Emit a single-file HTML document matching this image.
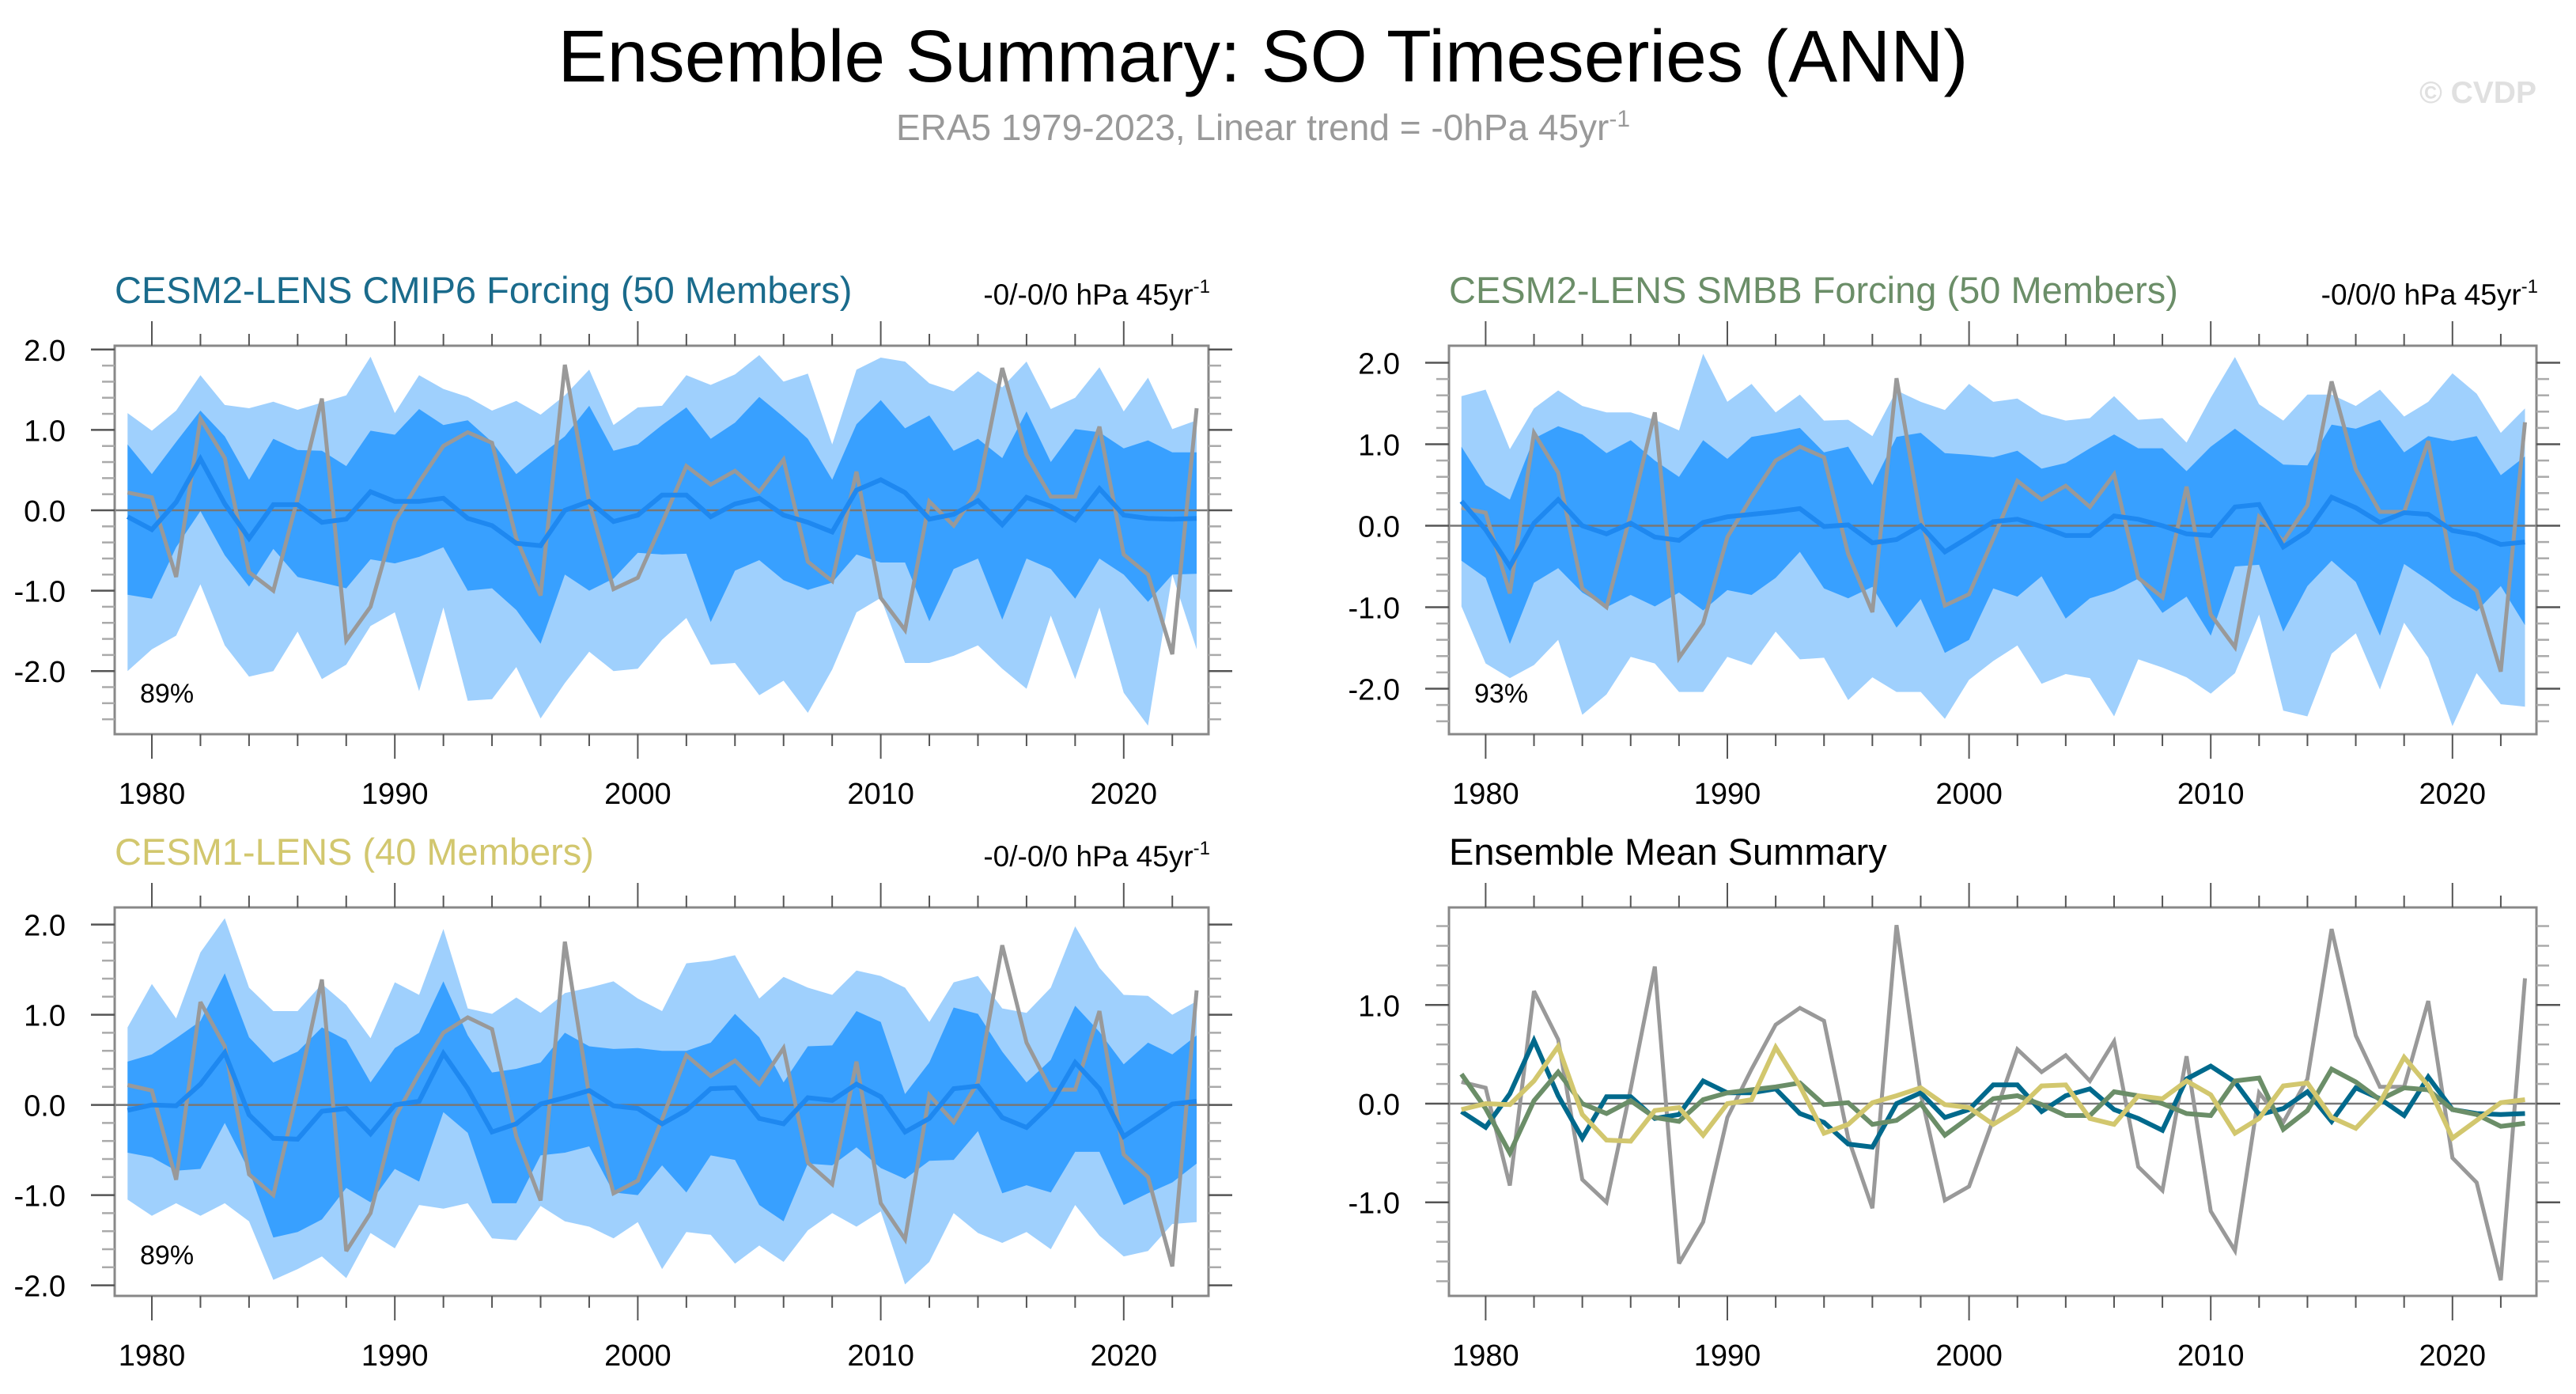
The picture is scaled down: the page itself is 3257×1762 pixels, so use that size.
<!DOCTYPE html>
<html><head><meta charset="utf-8">
<style>
html,body{margin:0;padding:0;background:#fff;}
svg{display:block;font-family:"Liberation Sans",Arial,sans-serif;}
</style></head>
<body>
<svg id="chart" width="3257" height="1762" viewBox="0 0 3257 1762" xmlns="http://www.w3.org/2000/svg">
<text x="1597" y="103" font-size="93" text-anchor="middle" fill="#000">Ensemble Summary: SO Timeseries (ANN)</text>
<text x="1597" y="177" font-size="46" text-anchor="middle" fill="#999">ERA5 1979-2023, Linear trend = -0hPa 45yr<tspan dy="-17" font-size="30">-1</tspan></text>
<text x="3207" y="130" font-size="39" font-weight="bold" text-anchor="end" fill="#e0e0e0">© CVDP</text>
<g id="panels"></g>
</svg>
<script>
// ---- data ----
const years = [];
for (let y = 1979; y <= 2023; y++) years.push(y);
const obs = [0.22,0.16,-0.83,1.14,0.65,-0.77,-1.0,0.15,1.39,-1.62,-1.2,-0.14,0.35,0.8,0.97,0.84,-0.35,-1.06,1.81,0.1,-0.98,-0.84,-0.16,0.55,0.32,0.49,0.23,0.63,-0.64,-0.88,0.48,-1.09,-1.49,0.11,-0.19,0.25,1.77,0.69,0.17,0.17,1.04,-0.55,-0.8,-1.79,1.27];
const meanCmip6 = [-0.08,-0.24,0.1,0.64,0.08,-0.35,0.07,0.07,-0.15,-0.11,0.23,0.11,0.11,0.15,-0.1,-0.19,-0.41,-0.44,0.0,0.11,-0.14,-0.06,0.19,0.19,-0.08,0.08,0.15,-0.06,-0.15,-0.27,0.25,0.38,0.22,-0.11,-0.05,0.12,-0.18,0.16,0.05,-0.12,0.27,-0.06,-0.1,-0.11,-0.1];
const meanSmbb = [0.3,-0.05,-0.5,0.03,0.32,0.0,-0.1,0.03,-0.14,-0.18,0.04,0.11,0.14,0.17,0.21,-0.01,0.01,-0.21,-0.17,0.0,-0.32,-0.14,0.05,0.08,-0.01,-0.12,-0.12,0.12,0.08,0.0,-0.1,-0.12,0.23,0.26,-0.26,-0.07,0.35,0.22,0.04,0.16,0.14,-0.06,-0.11,-0.23,-0.2];
const meanCesm1 = [-0.06,0.0,-0.01,0.23,0.58,-0.11,-0.37,-0.38,-0.07,-0.04,-0.32,0.0,0.04,0.57,0.18,-0.3,-0.21,0.01,0.08,0.16,-0.01,-0.04,-0.21,-0.06,0.18,0.19,-0.15,-0.21,0.08,0.05,0.23,0.09,-0.3,-0.15,0.18,0.21,-0.14,-0.25,0.01,0.47,0.18,-0.35,-0.17,0.01,0.04];

const cmip6LightUp = [1.21,0.99,1.24,1.68,1.31,1.27,1.35,1.25,1.34,1.43,1.91,1.21,1.68,1.51,1.41,1.24,1.36,1.19,1.43,1.75,1.06,1.28,1.30,1.68,1.56,1.69,1.93,1.6,1.7,0.82,1.75,1.9,1.85,1.58,1.48,1.73,1.53,1.85,1.26,1.4,1.78,1.23,1.65,1.01,1.12];
const cmip6DarkUp = [0.82,0.45,0.85,1.24,0.92,0.38,0.89,0.75,0.74,0.55,0.99,0.94,1.26,1.06,1.12,0.85,0.45,0.69,0.92,1.30,0.74,0.82,1.06,1.28,0.89,1.09,1.41,1.16,0.89,0.38,1.07,1.37,1.02,1.18,0.74,0.89,0.65,1.23,0.60,1.01,0.97,0.77,0.87,0.72,0.72];
const cmip6DarkLo = [-1.05,-1.1,-0.46,-0.01,-0.56,-0.95,-0.48,-0.83,-0.9,-0.97,-0.61,-0.66,-0.58,-0.46,-1.0,-0.97,-1.24,-1.66,-0.8,-1.0,-0.85,-0.53,-0.55,-0.54,-1.39,-0.75,-0.62,-0.87,-0.99,-0.9,-0.55,-0.65,-0.65,-1.38,-0.73,-0.6,-1.36,-0.6,-0.73,-1.1,-0.6,-0.8,-1.14,-0.8,-0.79];
const cmip6LightLo = [-2.0,-1.73,-1.56,-0.92,-1.68,-2.07,-2.0,-1.51,-2.1,-1.92,-1.44,-1.27,-2.25,-1.21,-2.37,-2.35,-1.95,-2.59,-2.15,-1.76,-2.0,-1.97,-1.61,-1.34,-1.92,-1.9,-2.3,-2.12,-2.52,-1.98,-1.27,-1.09,-1.9,-1.9,-1.81,-1.68,-1.97,-2.22,-1.31,-2.1,-1.21,-2.27,-2.68,-0.8,-1.73];

const smbbLightUp = [1.59,1.67,0.94,1.44,1.66,1.47,1.39,1.39,1.30,1.17,2.11,1.52,1.74,1.39,1.61,1.29,1.30,1.10,1.66,1.52,1.42,1.74,1.52,1.56,1.37,1.29,1.32,1.59,1.30,1.32,1.02,1.57,2.07,1.49,1.29,1.61,1.61,1.47,1.67,1.34,1.52,1.87,1.62,1.14,1.44];
const smbbDarkUp = [0.97,0.50,0.32,1.07,1.22,1.12,0.89,1.05,0.80,0.60,1.05,0.82,1.09,1.14,1.20,0.90,0.97,0.50,1.09,1.14,0.89,0.87,0.84,0.92,0.70,0.77,0.95,1.12,0.95,0.95,0.67,0.97,1.19,0.97,0.75,0.74,1.24,1.19,1.30,0.90,1.10,1.04,1.10,0.62,0.85];
const smbbDarkLo = [-0.43,-0.64,-1.45,-0.70,-0.52,-0.82,-1.0,-0.85,-0.99,-0.82,-1.04,-0.79,-0.85,-0.64,-0.32,-0.77,-0.89,-0.75,-1.25,-0.90,-1.56,-1.40,-0.77,-0.87,-0.62,-1.14,-0.89,-0.80,-0.65,-1.07,-0.87,-1.35,-0.50,-0.48,-1.30,-0.74,-0.43,-0.69,-1.35,-0.47,-0.67,-0.89,-1.05,-0.74,-1.22];
const smbbLightLo = [-0.99,-1.69,-1.87,-1.71,-1.40,-2.32,-2.07,-1.61,-1.69,-2.04,-2.04,-1.61,-1.71,-1.30,-1.64,-1.62,-2.14,-1.86,-2.04,-2.04,-2.37,-1.89,-1.66,-1.47,-1.94,-1.82,-1.87,-2.34,-1.64,-1.74,-1.86,-2.06,-1.81,-1.09,-2.27,-2.34,-1.57,-1.32,-2.01,-1.19,-1.62,-2.46,-1.81,-2.19,-2.22];

const cesm1LightUp = [0.86,1.34,0.96,1.69,2.07,1.30,1.04,1.04,1.34,1.11,0.74,1.36,1.22,1.95,1.07,1.01,1.19,1.02,1.24,1.30,1.37,1.18,1.04,1.57,1.60,1.66,1.18,1.42,1.30,1.22,1.49,1.43,1.30,0.92,1.36,1.43,1.07,1.02,1.30,1.98,1.52,1.22,1.21,1.0,1.15];
const cesm1DarkUp = [0.48,0.56,0.74,0.93,1.46,0.75,0.47,0.59,0.86,0.72,0.25,0.63,0.80,1.37,0.77,0.36,0.40,0.47,0.80,0.65,0.62,0.63,0.60,0.60,0.69,1.01,0.75,0.25,0.65,0.66,1.04,0.92,0.12,0.47,1.08,1.01,0.59,0.25,0.50,1.10,0.81,0.45,0.69,0.56,0.77];
const cesm1DarkLo = [-0.53,-0.58,-0.73,-0.71,-0.20,-0.73,-1.47,-1.41,-1.27,-0.92,-1.08,-0.71,-0.85,-0.08,-0.31,-1.09,-1.09,-0.56,-0.53,-0.46,-0.97,-1.0,-0.67,-0.97,-0.56,-0.61,-1.11,-1.29,-0.65,-0.67,-0.47,-0.70,-0.82,-0.62,-0.61,-0.29,-0.98,-0.89,-0.97,-0.52,-0.52,-1.11,-0.98,-0.86,-0.65];
const cesm1LightLo = [-1.05,-1.23,-1.09,-1.23,-1.09,-1.29,-1.94,-1.82,-1.68,-1.92,-1.42,-1.59,-1.11,-1.15,-1.09,-1.48,-1.50,-1.12,-1.29,-1.35,-1.48,-1.30,-1.82,-1.41,-1.44,-1.76,-1.56,-1.74,-1.39,-1.20,-1.35,-1.18,-1.99,-1.74,-1.20,-1.42,-1.53,-1.41,-1.60,-1.11,-1.45,-1.68,-1.62,-1.32,-1.30];

const xTickLabels = ["1980","1990","2000","2010","2020"];
const yTickLabelsBand = ["-2.0","-1.0","0.0","1.0","2.0"];
const yTickLabelsMean = ["-1.0","0.0","1.0"];

// ---- drawing ----
const NS = "http://www.w3.org/2000/svg";
const root = document.getElementById("panels");
function mk(tag, attrs, parent) {
  const e = document.createElementNS(NS, tag);
  for (const k in attrs) e.setAttribute(k, attrs[k]);
  (parent || root).appendChild(e);
  return e;
}

function makePanel(cfg) {
  const g = mk("g", {});
  
  
  const xs = v => cfg.x0 + (v - 1980) * cfg.pxYear;
  const ys = v => cfg.zero - v * cfg.pxUnit;
  const clipId = cfg.name + "-clip";
  const cp = mk("clipPath", {id: clipId}, g);
  mk("rect", {x: cfg.left, y: cfg.top, width: cfg.right - cfg.left, height: cfg.bottom - cfg.top}, cp);
  const plot = mk("g", {"clip-path": "url(#" + clipId + ")"}, g);

  function band(up, lo, color, name) {
    let d = "";
    years.forEach((yr, i) => { d += (i ? "L" : "M") + xs(yr).toFixed(1) + "," + ys(up[i]).toFixed(1); });
    for (let i = years.length - 1; i >= 0; i--) d += "L" + xs(years[i]).toFixed(1) + "," + ys(lo[i]).toFixed(1);
    const p = mk("path", {d: d + "Z", fill: color, stroke: "none"}, plot);
    
    
  }
  function line(vals, color, w, name) {
    const pts = years.map((yr, i) => xs(yr).toFixed(1) + "," + ys(vals[i]).toFixed(1)).join(" ");
    const p = mk("polyline", {points: pts, fill: "none", stroke: color, "stroke-width": w, "stroke-linejoin": "miter", "stroke-miterlimit": 3}, plot);
    
    
  }
  if (cfg.bands) {
    band(cfg.bands[0], cfg.bands[3], "#9fd0fd", "outer-spread-band");
    band(cfg.bands[1], cfg.bands[2], "#38a0ff", "inner-spread-band");
  }
  const zl = mk("line", {x1: cfg.left, x2: cfg.right, y1: ys(0), y2: ys(0), stroke: "#777", "stroke-width": 2.5}, plot);
  
  
  cfg.lines.forEach(l => line(l.vals, l.color, l.w, l.name));

  const fr = mk("rect", {x: cfg.left, y: cfg.top, width: cfg.right - cfg.left, height: cfg.bottom - cfg.top, fill: "none", stroke: "#888", "stroke-width": 3}, g);
  
  

  for (let yr = 1978; yr <= 2024; yr += 2) {
    const x = xs(yr);
    if (x < cfg.left || x > cfg.right) continue;
    const major = yr % 10 === 0;
    const L = major ? 31 : 15;
    mk("line", {x1: x, x2: x, y1: cfg.top, y2: cfg.top - L, stroke: "#555", "stroke-width": 2}, g);
    mk("line", {x1: x, x2: x, y1: cfg.bottom, y2: cfg.bottom + L, stroke: "#555", "stroke-width": 2}, g);
  }
  xTickLabels.forEach(lbl => {
    const t = mk("text", {x: xs(+lbl), y: cfg.bottom + 88, "font-size": 38, "text-anchor": "middle", fill: "#000"}, g);
    t.textContent = lbl;
    
    
  });
  for (let k = -30; k <= 30; k++) {
    const v = k / 5;
    const y = ys(v);
    if (y < cfg.top + 1 || y > cfg.bottom - 1) continue;
    const major = k % 5 === 0;
    const L = major ? 30 : 16;
    mk("line", {x1: cfg.left, x2: cfg.left - L, y1: y, y2: y, stroke: major ? "#555" : "#aaa", "stroke-width": 2.5}, g);
    mk("line", {x1: cfg.right, x2: cfg.right + L, y1: y, y2: y, stroke: major ? "#555" : "#aaa", "stroke-width": 2.5}, g);
  }
  cfg.yLabels.forEach(lbl => {
    const t = mk("text", {x: cfg.left - 62, y: ys(+lbl) + 14, "font-size": 38, "text-anchor": "end", fill: "#000"}, g);
    t.textContent = lbl;
    
    
  });
  const tt = mk("text", {x: cfg.left, y: cfg.top - 54, "font-size": 47, fill: cfg.titleColor}, g);
  tt.textContent = cfg.title;
  
  
  if (cfg.trend) {
    const tr = mk("text", {x: cfg.right + 2, y: cfg.top - 52, "font-size": 37, "text-anchor": "end", fill: "#000"}, g);
    tr.textContent = cfg.trend + " hPa 45yr";
    const sup = mk("tspan", {dy: -15, "font-size": 24}, tr);
    sup.textContent = "-1";
    
    
  }
  if (cfg.pct) {
    const pt = mk("text", {x: cfg.left + 32, y: cfg.bottom - 40, "font-size": 34, fill: "#000"}, g);
    pt.textContent = cfg.pct;
    
    
  }
}

makePanel({name: "panel-cesm2-cmip6", left: 145, right: 1528, top: 437, bottom: 928, x0: 192, pxYear: 30.72, zero: 645, pxUnit: 101.6,
  bands: [cmip6LightUp, cmip6DarkUp, cmip6DarkLo, cmip6LightLo],
  lines: [{vals: obs, color: "#999", w: 5, name: "observed-line"}, {vals: meanCmip6, color: "#1e88f0", w: 6, name: "ensemble-mean-line"}],
  yLabels: yTickLabelsBand, title: "CESM2-LENS CMIP6 Forcing (50 Members)", titleColor: "#1a6b8c", trend: "-0/-0/0", pct: "89%"});

makePanel({name: "panel-cesm2-smbb", left: 1832, right: 3207, top: 437, bottom: 928, x0: 1878.4, pxYear: 30.56, zero: 664.5, pxUnit: 103,
  bands: [smbbLightUp, smbbDarkUp, smbbDarkLo, smbbLightLo],
  lines: [{vals: obs, color: "#999", w: 5, name: "observed-line"}, {vals: meanSmbb, color: "#1e88f0", w: 6, name: "ensemble-mean-line"}],
  yLabels: yTickLabelsBand, title: "CESM2-LENS SMBB Forcing (50 Members)", titleColor: "#6b8e68", trend: "-0/0/0", pct: "93%"});

makePanel({name: "panel-cesm1", left: 145, right: 1528, top: 1147, bottom: 1638, x0: 192, pxYear: 30.72, zero: 1396.6, pxUnit: 114,
  bands: [cesm1LightUp, cesm1DarkUp, cesm1DarkLo, cesm1LightLo],
  lines: [{vals: obs, color: "#999", w: 5, name: "observed-line"}, {vals: meanCesm1, color: "#1e88f0", w: 6, name: "ensemble-mean-line"}],
  yLabels: yTickLabelsBand, title: "CESM1-LENS (40 Members)", titleColor: "#d2c76e", trend: "-0/-0/0", pct: "89%"});

makePanel({name: "panel-ensemble-mean-summary", left: 1832, right: 3207, top: 1147, bottom: 1638, x0: 1878.4, pxYear: 30.56, zero: 1395, pxUnit: 124.7,
  bands: null,
  lines: [{vals: obs, color: "#999", w: 5, name: "observed-line"},
          {vals: meanCmip6, color: "#00698c", w: 6, name: "cmip6-mean-line"},
          {vals: meanSmbb, color: "#6b8e68", w: 6, name: "smbb-mean-line"},
          {vals: meanCesm1, color: "#d2c76e", w: 6, name: "cesm1-mean-line"}],
  yLabels: yTickLabelsMean, title: "Ensemble Mean Summary", titleColor: "#000", trend: null, pct: null});
</script>
</body></html>
